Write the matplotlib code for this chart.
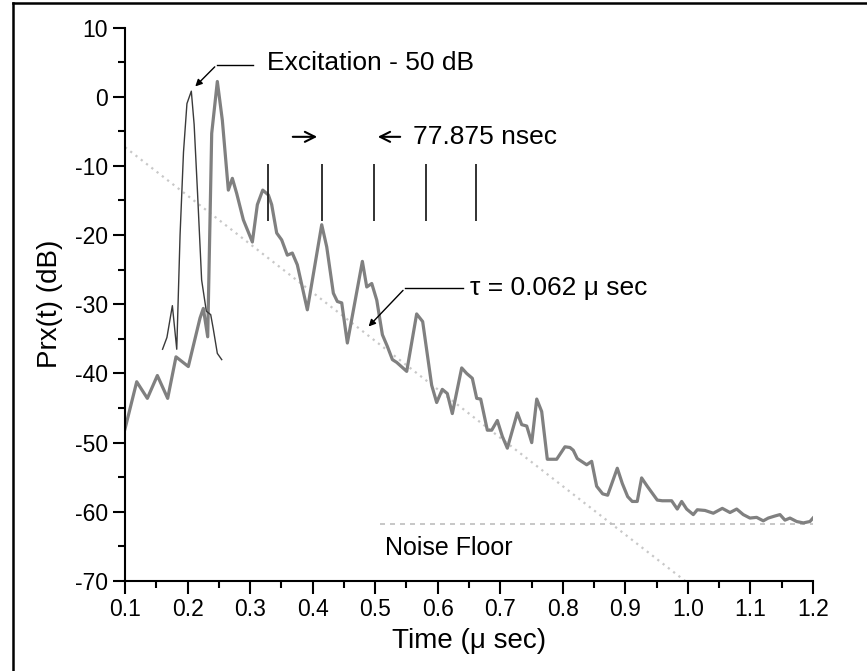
import matplotlib.pyplot as plt
from matplotlib.lines import Line2D

# received power trace
time_us = [0.100, 0.1187, 0.1357, 0.1517, 0.1682, 0.1815, 0.2012, 0.2199, 0.2252, 0.2322,
           0.2386, 0.2476, 0.2556, 0.2652, 0.2716, 0.2786, 0.2892, 0.3036, 0.3116, 0.3202,
           0.3292, 0.3345, 0.3425, 0.3505, 0.3595, 0.3675, 0.3755, 0.3915, 0.4145, 0.4225,
           0.4331, 0.4395, 0.4465, 0.4555, 0.4795, 0.4865, 0.4945, 0.5025, 0.5115, 0.5195,
           0.5275, 0.5344, 0.5504, 0.5663, 0.5759, 0.5903, 0.5983, 0.6073, 0.6153, 0.6233,
           0.6383, 0.6463, 0.6553, 0.6623, 0.6687, 0.6793, 0.6863, 0.6953, 0.7033, 0.7113,
           0.7273, 0.7343, 0.7423, 0.7503, 0.7583, 0.7662, 0.7752, 0.7902, 0.8034, 0.8114,
           0.8167, 0.8231, 0.8382, 0.8461, 0.8541, 0.8637, 0.8717, 0.8871, 0.8951, 0.9037,
           0.9110, 0.9190, 0.9260, 0.9350, 0.9510, 0.9590, 0.9740, 0.9830, 0.9900, 0.9980,
           1.0086, 1.0150, 1.0273, 1.0406, 1.0550, 1.0673, 1.0780, 1.0885, 1.0992, 1.1099,
           1.1205, 1.1285, 1.1392, 1.1472, 1.1552, 1.1632, 1.1739, 1.1845, 1.1951, 1.2000]
prx_db = [-48.0, -41.2, -43.6, -40.3, -43.6, -37.6, -39.0, -32.0, -30.6, -34.7,
          -5.3, 2.2, -3.4, -13.5, -11.8, -14.0, -17.8, -21.0, -15.6, -13.5,
          -14.2, -15.6, -19.7, -20.7, -22.9, -22.6, -24.3, -30.8, -18.5, -21.7,
          -28.4, -29.6, -29.8, -35.6, -23.8, -27.5, -27.0, -29.4, -34.4, -36.1,
          -38.0, -38.4, -39.7, -31.4, -32.5, -41.7, -44.2, -42.3, -42.9, -45.8,
          -39.2, -40.0, -40.7, -43.6, -43.7, -48.2, -48.2, -46.8, -49.1, -50.8,
          -45.7, -47.4, -47.6, -50.0, -43.7, -45.5, -52.4, -52.4, -50.6, -50.7,
          -51.1, -52.3, -53.2, -52.7, -56.3, -57.4, -57.6, -53.7, -55.9, -57.8,
          -58.5, -58.5, -55.1, -56.3, -58.3, -58.4, -58.4, -59.6, -58.5, -59.6,
          -60.4, -59.7, -59.8, -60.2, -59.5, -60.1, -59.6, -60.4, -60.9, -60.8,
          -61.3, -60.9, -60.6, -60.4, -61.2, -60.9, -61.4, -61.6, -61.4, -60.9]

# excitation pulse (thin line)
exc_time = [0.160, 0.167, 0.1757, 0.1827, 0.1880, 0.1935, 0.1990, 0.2060, 0.2105, 0.2160,
            0.2225, 0.2300, 0.2370, 0.2410, 0.2476, 0.2546]
exc_db = [-36.5, -34.8, -30.2, -36.5, -20.0, -8.0, -1.0, 0.8, -4.0, -14.0,
          -26.5, -31.0, -31.5, -33.5, -37.1, -38.0]

# fitted decay line and noise floor
fit_time = [0.10, 1.00]
fit_db = [-7.3, -70.3]
noise_time = [0.508, 1.20]
noise_db = [-61.7, -61.7]

# 77.875 nsec spacing markers
marker_times = [0.329, 0.4145, 0.498, 0.581, 0.661]

plt.rcParams['font.family'] = ['Liberation Sans', 'DejaVu Sans']
plt.rcParams['axes.unicode_minus'] = False

fig = plt.figure(figsize=(8.67, 6.71), dpi=100)
ax = fig.add_axes([0.1442, 0.1341, 0.7935, 0.8249])

ax.plot(fit_time, fit_db, color='#c8c8c8', linestyle=(0, (1, 2)), linewidth=1.6)
ax.plot(noise_time, noise_db, color='#bdbdbd', linestyle=(0, (3, 3)), linewidth=1.2)
ax.plot(time_us, prx_db, color='#808080', linewidth=2.3)
ax.plot(exc_time, exc_db, color='#3a3a3a', linewidth=1.0)

ax.vlines(marker_times, -18.0, -9.7, color='#222222', linewidth=1.3)

# spacing arrows
ax.annotate('', xy=(0.4117, -5.8), xytext=(0.3638, -5.8),
            arrowprops=dict(arrowstyle='->', color='black', lw=1.5, mutation_scale=18))
ax.annotate('', xy=(0.4997, -5.8), xytext=(0.5444, -5.8),
            arrowprops=dict(arrowstyle='->', color='black', lw=1.5, mutation_scale=18))
ax.text(0.5604, -5.8, '77.875 nsec', fontsize=19, va='center', ha='left')

# excitation label
ax.plot([0.2466, 0.3050], [4.6, 4.6], color='black', linewidth=1.0)
ax.annotate('', xy=(0.2092, 1.2), xytext=(0.2466, 4.6),
            arrowprops=dict(arrowstyle='-|>', color='black', lw=1.0, mutation_scale=10))
ax.text(0.3265, 4.8, 'Excitation - 50 dB', fontsize=19, va='center', ha='left')

# tau label
ax.plot([0.5476, 0.6409], [-27.7, -27.7], color='black', linewidth=1.0)
ax.annotate('', xy=(0.4864, -33.5), xytext=(0.5476, -27.7),
            arrowprops=dict(arrowstyle='-|>', color='black', lw=1.0, mutation_scale=10))
ax.text(0.6516, -27.7, 'τ = 0.062 μ sec', fontsize=19, va='center', ha='left')

ax.text(0.5157, -65.2, 'Noise Floor', fontsize=18, va='center', ha='left')

ax.set_xlim(0.1, 1.2)
ax.set_ylim(-70, 10)
ax.set_xticks([0.1 * i for i in range(1, 13)])
ax.set_xticklabels([f'{0.1 * i:.1f}' for i in range(1, 13)])
ax.set_xticks([0.15 + 0.1 * i for i in range(11)], minor=True)
ax.set_yticks(range(-70, 11, 10))
ax.set_yticks(range(-65, 10, 10), minor=True)

for side in ['top', 'right']:
    ax.spines[side].set_visible(False)
for side in ['left', 'bottom']:
    ax.spines[side].set_linewidth(1.5)
ax.tick_params(which='major', direction='out', length=9, width=1.5, labelsize=16.5)
ax.tick_params(which='minor', direction='out', length=5, width=1.5)

ax.set_xlabel('Time (μ sec)', fontsize=20, labelpad=5)
ax.set_ylabel('Prx(t) (dB)', fontsize=20, labelpad=8)

# scanned page frame
fig.add_artist(Line2D([12.5 / 867, 12.5 / 867], [0, 1 - 2.5 / 671],
                      transform=fig.transFigure, color='black', linewidth=1.8))
fig.add_artist(Line2D([12.5 / 867, 1], [1 - 2.5 / 671, 1 - 2.5 / 671],
                      transform=fig.transFigure, color='black', linewidth=1.8))

fig.savefig('out.png', dpi=100)
